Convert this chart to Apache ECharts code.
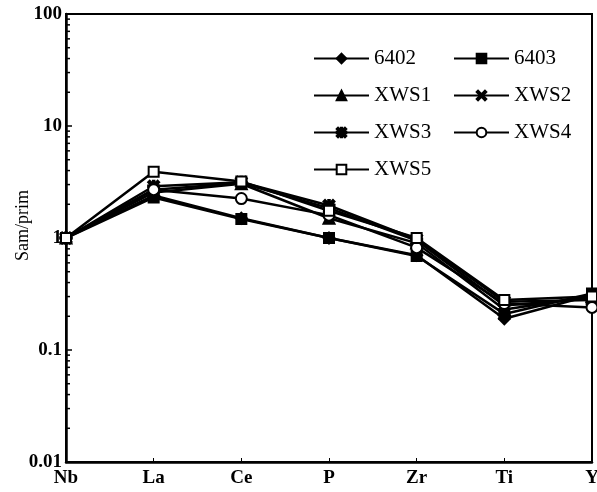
<!DOCTYPE html>
<html>
<head>
<meta charset="utf-8">
<script src="https://cdn.jsdelivr.net/npm/echarts@6/dist/echarts.min.js"></script>
<style>
  html, body { margin: 0; padding: 0; background: #fff; }
  #chart { width: 597px; height: 492px; }
</style>
</head>
<body>
<div id="chart"></div>
<script>
// 元素 (x轴)
const categories = ['Nb', 'La', 'Ce', 'P', 'Zr', 'Ti', 'Y']
// 样品/原始地幔 标准化值
const s6402 = [1, 2.4, 1.5, 1.0, 0.7, 0.19, 0.31]
const s6403 = [1, 2.3, 1.48, 1.0, 0.69, 0.21, 0.32]
const sXWS1 = [1, 2.55, 3.05, 1.5, 0.9, 0.23, 0.3]
const sXWS2 = [1, 2.7, 3.1, 1.85, 0.95, 0.25, 0.29]
const sXWS3 = [1, 2.9, 3.15, 1.95, 0.97, 0.27, 0.28]
const sXWS4 = [1, 2.7, 2.25, 1.6, 0.82, 0.26, 0.24]
const sXWS5 = [1, 3.9, 3.2, 1.75, 1.0, 0.28, 0.3]
// 对数轴的次刻度
const minorTickValues = [
  0.02, 0.03, 0.04, 0.05, 0.06, 0.07, 0.08, 0.09,
  0.2, 0.3, 0.4, 0.5, 0.6, 0.7, 0.8, 0.9,
  2, 3, 4, 5, 6, 7, 8, 9,
  20, 30, 40, 50, 60, 70, 80, 90
]

const font = 'Liberation Serif'
const crossPath = 'path://M0,1.4L1.4,0L5,3.6L8.6,0L10,1.4L6.4,5L10,8.6L8.6,10L5,6.4L1.4,10L0,8.6L3.6,5Z'
const starPath = 'path://M0,1.4L1.4,0L5,3.6L8.6,0L10,1.4L6.4,5L10,8.6L8.6,10L5,6.4L1.4,10L0,8.6L3.6,5Z' +
  'M4.3,0L4.3,10L5.7,10L5.7,0Z M0,4.3L0,5.7L10,5.7L10,4.3Z'

function lineSeries (name, data, symbol, size) {
  return {
    name: name,
    type: 'line',
    data: data,
    symbol: symbol,
    symbolSize: size,
    showAllSymbol: true,
    color: '#000',
    lineStyle: { color: '#000', width: 2.5 },
    itemStyle: { color: '#000', borderColor: '#000', borderWidth: 2 },
    emphasis: { disabled: true }
  }
}

const chart = echarts.init(document.getElementById('chart'))
const legendBase = {
  orient: 'vertical',
  top: 48,
  padding: 0,
  itemWidth: 55,
  itemHeight: 12,
  itemGap: 16,
  selectedMode: false,
  textStyle: { fontFamily: font, fontSize: 21, color: '#000' }
}

chart.setOption({
  animation: false,
  backgroundColor: '#fff',
  grid: {
    left: 66,
    right: 5,
    top: 14,
    bottom: 30,
    outerBoundsMode: 'none',
    containLabel: false,
    show: true,
    borderColor: '#000',
    borderWidth: 2,
    backgroundColor: 'transparent'
  },
  legend: [
    Object.assign({}, legendBase, { left: 313, data: ['6402', 'XWS1', 'XWS3', 'XWS5'] }),
    Object.assign({}, legendBase, { left: 453, data: ['6403', 'XWS2', 'XWS4'] })
  ],
  xAxis: {
    type: 'category',
    boundaryGap: false,
    data: categories,
    axisLine: { lineStyle: { color: '#000', width: 2.5 } },
    axisTick: { show: true, inside: true, length: 4, alignWithLabel: true, lineStyle: { color: '#000' } },
    axisLabel: { color: '#000', fontFamily: font, fontSize: 19, fontWeight: 'bold', margin: 7 },
    splitLine: { show: false }
  },
  yAxis: {
    type: 'log',
    logBase: 10,
    min: 0.01,
    max: 100,
    name: 'Sam/prim',
    nameLocation: 'middle',
    nameGap: 34,
    nameMoveOverlap: false,
    nameTextStyle: { color: '#000', fontFamily: font, fontSize: 18, padding: [0, 0, 0, 25] },
    axisLine: { show: true, lineStyle: { color: '#000', width: 2.5 } },
    axisTick: { show: true, inside: true, length: 6, lineStyle: { color: '#000', width: 1.5 } },
    axisLabel: {
      color: '#000',
      fontFamily: font,
      fontSize: 19,
      fontWeight: 'bold',
      margin: 4,
      formatter: function (v) { return String(+v.toPrecision(3)) }
    },
    splitLine: { show: false }
  },
  series: [
    {
      name: 'minorTicks',
      type: 'custom',
      silent: true,
      z: 1,
      data: minorTickValues.map(v => [0, v]),
      renderItem: function (params, api) {
        const p = api.coord([api.value(0), api.value(1)])
        return {
          type: 'line',
          shape: { x1: p[0], y1: p[1], x2: p[0] + 4, y2: p[1] },
          style: { stroke: '#000', lineWidth: 1.5 }
        }
      }
    },
    lineSeries('6402', s6402, 'diamond', 11),
    lineSeries('6403', s6403, 'rect', 10),
    lineSeries('XWS1', sXWS1, 'triangle', 11),
    lineSeries('XWS2', sXWS2, crossPath, 10),
    lineSeries('XWS3', sXWS3, starPath, 11),
    lineSeries('XWS4', sXWS4, 'emptyCircle', 11),
    lineSeries('XWS5', sXWS5, 'emptyRect', 10)
  ]
})
</script>
</body>
</html>
